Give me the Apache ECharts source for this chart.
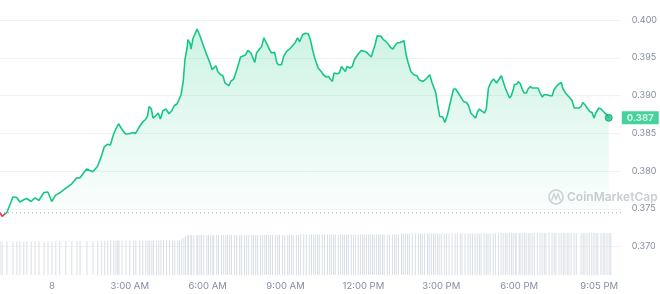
<!DOCTYPE html>
<html>
<head>
<meta charset="utf-8">
<script src="https://cdn.jsdelivr.net/npm/echarts@6/dist/echarts.min.js"></script>
<style>
html,body{margin:0;padding:0;background:#fff;}
#chart{width:660px;height:294px;}
</style>
</head>
<body>
<div id="chart"></div>
<script>
// Minutes elapsed since 22:00 on the previous day (the window start)
const minutesFromStart = [
0,5,16,30,39,46,55,62,72,81,
90,102,111,120,129,138,152,166,178,185,
201,215,226,235,242,249,256,263,268,272,
275,282,291,300,309,314,323,330,337,342,
346,351,355,362,367,372,378,385,392,399,
404,411,415,420,425,429,434,436,441,443,
448,455,457,462,466,471,478,482,487,492,
494,501,505,512,517,522,526,531,535,542,
547,554,558,565,570,575,582,586,591,595,
602,607,612,616,621,625,630,637,642,646,
653,658,665,669,674,678,685,690,695,702,
708,715,720,725,729,734,738,745,750,757,
762,766,771,775,782,787,792,796,801,805,
812,817,822,828,833,838,842,847,852,856,
861,865,870,875,879,884,888,895,900,907,
912,916,921,928,932,937,942,946,953,960,
967,972,976,981,988,992,997,1002,1006,1011,
1015,1020,1027,1032,1038,1045,1052,1057,1064,1068,
1075,1082,1087,1092,1098,1103,1108,1112,1119,1124,
1128,1133,1140,1145,1152,1158,1163,1168,1172,1177,
1182,1186,1191,1193,1200,1202,1207,1212,1216,1221,
1225,1230,1235,1242,1248,1253,1258,1262,1269,1276,
1281,1285,1292,1297,1302,1306,1311,1315,1320,1327,
1332,1343,1348,1352,1357,1362,1368,1373,1378,1382,
1389,1394,1398,1403,1408,1412
];

// Price (USD)
const prices = [
0.37447,0.37398,0.37451,0.37655,0.37649,0.37589,0.37619,0.37636,0.37596,0.37645,
0.37610,0.37716,0.37721,0.37596,0.37681,0.37708,0.37769,0.37827,0.37910,0.37907,
0.38026,0.37990,0.38060,0.38193,0.38321,0.38354,0.38344,0.38480,0.38547,0.38547,
0.38626,0.38560,0.38490,0.38494,0.38511,0.38494,0.38582,0.38643,0.38679,0.38723,
0.38855,0.38821,0.38702,0.38732,0.38768,0.38688,0.38802,0.38821,0.38758,0.38802,
0.38864,0.38891,0.38908,0.39010,0.39186,0.39474,0.39629,0.39739,0.39686,0.39616,
0.39762,0.39849,0.39881,0.39818,0.39828,0.39673,0.39563,0.39540,0.39430,0.39342,
0.39332,0.39394,0.39319,0.39275,0.39262,0.39165,0.39156,0.39130,0.39186,0.39218,
0.39298,0.39430,0.39510,0.39527,0.39540,0.39597,0.39563,0.39540,0.39438,0.39563,
0.39616,0.39650,0.39762,0.39775,0.39660,0.39607,0.39563,0.39571,0.39438,0.39408,
0.39408,0.39518,0.39584,0.39607,0.39629,0.39616,0.39703,0.39762,0.39712,0.39805,
0.39825,0.39818,0.39739,0.39607,0.39518,0.39430,0.39364,0.39319,0.39275,0.39245,
0.39253,0.39218,0.39186,0.39298,0.39288,0.39298,0.39385,0.39385,0.39319,0.39385,
0.39364,0.39385,0.39474,0.39527,0.39563,0.39597,0.39584,0.39584,0.39563,0.39553,
0.39510,0.39584,0.39673,0.39792,0.39805,0.39783,0.39748,0.39716,0.39686,0.39629,
0.39616,0.39660,0.39695,0.39703,0.39716,0.39726,0.39540,0.39451,0.39319,0.39275,
0.39262,0.39209,0.39218,0.39186,0.39218,0.39232,0.39275,0.39173,0.39186,0.39033,
0.38878,0.38723,0.38715,0.38643,0.38745,0.38921,0.39086,0.39086,0.39023,0.38988,
0.38921,0.38908,0.38864,0.38768,0.38732,0.38702,0.38789,0.38821,0.38789,0.38768,
0.38821,0.39099,0.39186,0.39218,0.39165,0.39218,0.39262,0.39173,0.39099,0.39033,
0.38967,0.38997,0.39086,0.39143,0.39156,0.39186,0.39156,0.39076,0.39033,0.39033,
0.39086,0.39120,0.39099,0.39099,0.39099,0.39033,0.38980,0.39010,0.39010,0.38997,
0.38997,0.39076,0.39130,0.39156,0.39173,0.39086,0.39041,0.39033,0.38980,0.38935,
0.38834,0.38834,0.38855,0.38908,0.38878,0.38834,0.38789,0.38776,0.38702,0.38768,
0.38834,0.38821,0.38802,0.38768,0.38745,0.38705
];

// Volume (relative units)
const volumes = [
33.5,33.5,33.5,33.5,33.5,33.5,33.5,33.5,33.5,33.5,
33.5,33.5,33.5,33.5,34,34,34,34,34,34,
34,34,34,34,34,34,34.5,34.5,34.5,34.5,
34.5,34.5,34.5,34.5,34.5,34.5,34.5,34.5,34.5,34.5,
34.5,34.5,34.5,34.5,34.5,34.5,34.5,34.5,34.5,34.5,
34.5,34.5,34.5,36,37.5,39,39.5,40,40,40,
40,40,40,40,40,40,40,40,40,40,
40,40,40,40,40,40,40,40,40,40,
40,40,40,40,40,40,40,40,40,40,
40,40,40,40,40,40,40,40,40,40,
40,40,40,40,40,40,40,40,40.5,40.5,
40.5,40.5,40.5,40.5,40.5,40.5,40.5,40.5,40.5,40.5,
40.5,40.5,40.5,40.5,40.5,40.5,40.5,40.5,40.5,40.5,
40.5,40.5,40.5,40.5,40.5,40.5,40.5,40.5,40.5,40.5,
40.5,40.5,40.5,40.5,40.5,40.5,40.5,40.5,40.5,40.5,
40.5,40.5,40.5,41.5,41.5,41.5,41.5,41.5,41.5,41.5,
41.5,41.5,41.5,41.5,41.5,41.5,41.5,41.5,41.5,41.5,
41.5,41.5,41.5,41.5,41.5,41.5,41.5,41.5,41.5,41.5,
41.5,41.5,41.5,41.5,41.5,41.5,41.5,41.5,41.5,41.5,
41.5,41.5,41.5,41.5,41.5,42,42,42,42,42,
42,42,42,42,42,42,42,42,42,42,
42,42,42,42,42,42,42,42,42,42,
42,42,42,42,42,42,42,42,42,42,
42,42,42,42,42,42,42,42,42,42,
42,42,42,42,42,42
];

const tickMinutes = [120, 300, 480, 660, 840, 1020, 1200, 1385];
const tickLabels = ['8', '3:00 AM', '6:00 AM', '9:00 AM', '12:00 PM', '3:00 PM', '6:00 PM', '9:05 PM'];
const priceTicks = [0.370, 0.375, 0.380, 0.385, 0.390, 0.395, 0.400];
const windowMinutes = [0, 1440];

const GREEN = '#16c784';
const RED = '#ea3943';
const GREY = '#858ca2';
const FONT = 'Inter, "Noto Sans", sans-serif';

const priceData = minutesFromStart.map((m, i) => [m, prices[i]]);
const volumeData = minutesFromStart.map((m, i) => [m, volumes[i]]);
const openPrice = prices[0];
const lastIdx = prices.length - 1;
const lastPrice = prices[lastIdx];

const chart = echarts.init(document.getElementById('chart'), null, {renderer: 'canvas'});
chart.setOption({
  animation: false,
  backgroundColor: '#fff',
  grid: [
    {left: 0, right: 37, top: 20, height: 226.5},
    {left: 0, right: 37, top: 225, height: 50}
  ],
  xAxis: [
    {gridIndex: 0, type: 'value', min: windowMinutes[0], max: windowMinutes[1], show: false},
    {gridIndex: 1, type: 'value', min: windowMinutes[0], max: windowMinutes[1],
     axisLine: {show: false}, axisTick: {show: false}, splitLine: {show: false},
     axisLabel: {customValues: tickMinutes, formatter: v => tickLabels[tickMinutes.indexOf(v)],
       color: GREY, fontSize: 9.5, fontFamily: FONT, margin: 6}}
  ],
  yAxis: [
    {gridIndex: 0, type: 'value', position: 'right', min: priceTicks[0], max: priceTicks[priceTicks.length - 1], interval: 0.005,
     axisLine: {show: false}, axisTick: {show: false},
     splitLine: {lineStyle: {color: '#f0f2f5', width: 1}},
     axisLabel: {formatter: v => v.toFixed(3), color: GREY, fontSize: 9, fontFamily: FONT, margin: 11}},
    {gridIndex: 1, type: 'value', min: 0, max: 50, show: false}
  ],
  graphic: [
    {type: 'circle', shape: {cx: 556, cy: 197, r: 7}, style: {fill: 'none', stroke: '#cdd1d8', lineWidth: 1.5}, z: 1},
    {type: 'polyline', shape: {points: [[551.5, 200.5], [554, 194], [556, 199], [558, 194], [560.5, 200.5]]},
     style: {fill: 'none', stroke: '#cdd1d8', lineWidth: 1.4}, z: 1},
    {type: 'text', x: 567, y: 197, z: 1,
     style: {text: 'CoinMarketCap', fill: '#c9cdd4', font: '600 12px Inter, "Noto Sans", sans-serif', verticalAlign: 'middle'}}
  ],
  series: [
    {
      name: 'baseline', type: 'line', xAxisIndex: 0, yAxisIndex: 0, z: 2,
      data: windowMinutes.map(m => [m, openPrice]),
      showSymbol: false, symbol: 'none', silent: true,
      lineStyle: {type: [1, 3], color: '#a4abb8', width: 1}
    },
    {
      name: 'price', type: 'line', xAxisIndex: 0, yAxisIndex: 0, data: priceData,
      showSymbol: false, symbol: 'none', z: 3,
      lineStyle: {
        width: 1.6,
        color: new echarts.graphic.LinearGradient(0, 0, 1, 0, [
          {offset: 0, color: RED},
          {offset: 0.011, color: RED},
          {offset: 0.013, color: GREEN},
          {offset: 1, color: GREEN}
        ])
      },
      areaStyle: {
        origin: 'start',
        color: new echarts.graphic.LinearGradient(0, 0, 0, 1, [
          {offset: 0, color: 'rgba(22,199,132,0.30)'},
          {offset: 0.82, color: 'rgba(22,199,132,0.03)'},
          {offset: 0.86, color: 'rgba(255,255,255,0)'},
          {offset: 1, color: 'rgba(255,255,255,0)'}
        ])
      }
    },
    {
      name: 'last', type: 'scatter', xAxisIndex: 0, yAxisIndex: 0, z: 4,
      data: [[minutesFromStart[lastIdx], lastPrice]],
      symbolSize: 7,
      itemStyle: {color: GREEN, borderColor: '#0f9f69', borderWidth: 1}
    },
    {
      name: 'lastTag', type: 'scatter', xAxisIndex: 0, yAxisIndex: 0, z: 5, clip: false, silent: true,
      data: [[windowMinutes[1], lastPrice]],
      symbolSize: 0,
      label: {show: true, position: 'right', distance: 1, formatter: () => lastPrice.toFixed(3),
        backgroundColor: GREEN, color: '#fff', fontSize: 9.5, fontWeight: 'bold', fontFamily: FONT,
        padding: [2, 5, 1, 5]}
    },
    {
      name: 'volume', type: 'bar', xAxisIndex: 1, yAxisIndex: 1, data: volumeData,
      barWidth: 1, itemStyle: {color: '#d9dee6'}, z: 1
    }
  ]
});
</script>
</body>
</html>
